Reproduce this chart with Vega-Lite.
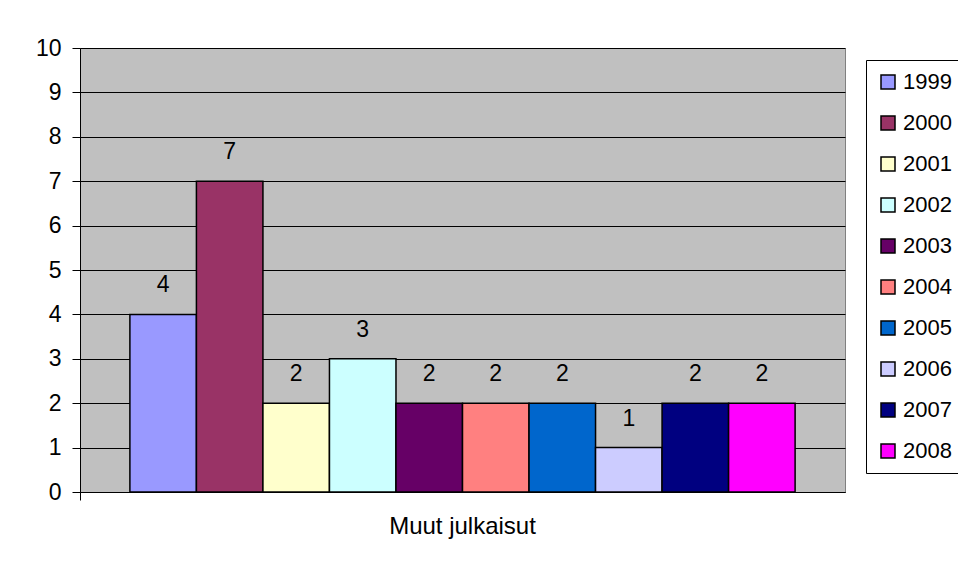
{
  "$schema": "https://vega.github.io/schema/vega-lite/v6.json",
  "width": 765,
  "height": 444,
  "autosize": {"type": "none"},
  "padding": {"left": 80, "top": 48, "right": 113, "bottom": 78},
  "background": "white",
  "config": {
    "font": "Liberation Sans",
    "view": {"fill": "#C0C0C0", "stroke": "#808080", "strokeWidth": 1}
  },
  "data": {
    "values": [
      {"category": "Muut julkaisut", "year": "1999", "value": 4},
      {"category": "Muut julkaisut", "year": "2000", "value": 7},
      {"category": "Muut julkaisut", "year": "2001", "value": 2},
      {"category": "Muut julkaisut", "year": "2002", "value": 3},
      {"category": "Muut julkaisut", "year": "2003", "value": 2},
      {"category": "Muut julkaisut", "year": "2004", "value": 2},
      {"category": "Muut julkaisut", "year": "2005", "value": 2},
      {"category": "Muut julkaisut", "year": "2006", "value": 1},
      {"category": "Muut julkaisut", "year": "2007", "value": 2},
      {"category": "Muut julkaisut", "year": "2008", "value": 2}
    ]
  },
  "encoding": {
    "x": {
      "field": "category",
      "type": "nominal",
      "scale": {"paddingInner": 0, "paddingOuter": 0},
      "axis": {
        "title": null,
        "labelAngle": 0,
        "labelFontSize": 24,
        "labelColor": "black",
        "domainColor": "black",
        "tickColor": "black",
        "tickSize": 8,
        "bandPosition": 0,
        "labelPadding": 14
      }
    },
    "xOffset": {
      "field": "year",
      "type": "nominal",
      "scale": {"paddingInner": 0, "paddingOuter": 0.75}
    },
    "y": {
      "field": "value",
      "type": "quantitative",
      "scale": {"domain": [0, 10]},
      "axis": {
        "title": null,
        "values": [0, 1, 2, 3, 4, 5, 6, 7, 8, 9, 10],
        "grid": true,
        "gridColor": "black",
        "gridOpacity": 1,
        "domainColor": "black",
        "tickColor": "black",
        "tickSize": 8,
        "labelFontSize": 23,
        "labelColor": "black",
        "labelPadding": 11
      }
    }
  },
  "layer": [
    {
      "mark": {"type": "bar", "stroke": "black", "strokeWidth": 1.5},
      "encoding": {
        "color": {
          "field": "year",
          "type": "nominal",
          "scale": {
            "domain": ["1999", "2000", "2001", "2002", "2003", "2004", "2005", "2006", "2007", "2008"],
            "range": ["#9999FF", "#993366", "#FFFFCC", "#CCFFFF", "#660066", "#FF8080", "#0066CC", "#CCCCFF", "#000080", "#FF00FF"]
          },
          "legend": {
            "orient": "none",
            "legendX": 786,
            "legendY": 12,
            "title": null,
            "strokeColor": "black",
            "fillColor": "white",
            "padding": 11,
            "symbolType": "square",
            "symbolSize": 196,
            "symbolStrokeColor": "black",
            "symbolStrokeWidth": 1.5,
            "symbolOpacity": 1,
            "labelFontSize": 22,
            "labelColor": "black",
            "rowPadding": 19,
            "labelOffset": 4
          }
        }
      }
    },
    {
      "mark": {"type": "text", "dy": -29, "baseline": "middle", "fontSize": 23, "color": "black"},
      "encoding": {"text": {"field": "value", "type": "quantitative"}}
    }
  ]
}
